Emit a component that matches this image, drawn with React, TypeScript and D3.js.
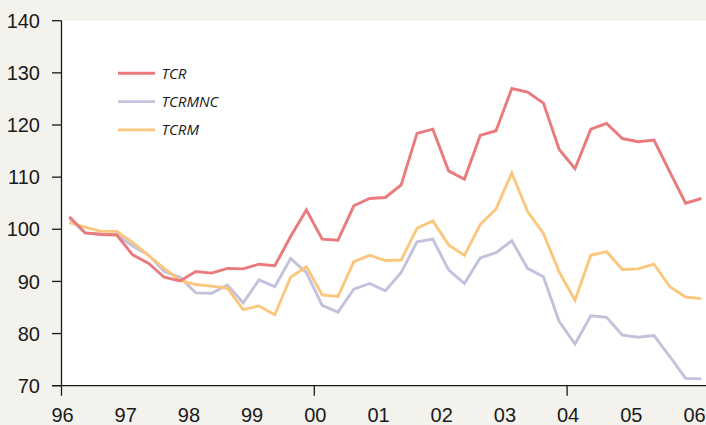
import React, { useEffect, useRef } from 'react';
import * as d3 from 'd3';

// quarterly observations, 1996Q1 .. 2006Q1
const startYear = 1996;
const tcr = [
  102.4, 99.3, 99.0, 98.9, 95.1, 93.5, 90.8, 90.1, 91.9, 91.6,
  92.5, 92.4, 93.3, 93.0, 98.6, 103.7, 98.1, 97.9, 104.5, 105.9,
  106.1, 108.5, 118.4, 119.2, 111.2, 109.6, 118.0, 118.9, 127.0, 126.3,
  124.2, 115.3, 111.6, 119.2, 120.3, 117.4, 116.8, 117.1, 111.0, 105.0,
  105.9,
];
const tcrmnc = [
  102.1, 99.3, 99.1, 99.0, 96.8, 95.1, 91.9, 90.8, 87.8, 87.7,
  89.3, 85.9, 90.3, 89.0, 94.4, 91.7, 85.4, 84.1, 88.5, 89.6,
  88.2, 91.7, 97.6, 98.1, 92.2, 89.6, 94.5, 95.5, 97.8, 92.5,
  90.9, 82.3, 78.0, 83.4, 83.1, 79.7, 79.3, 79.6, 75.6, 71.4,
  71.3,
];
const tcrm = [
  101.3, 100.4, 99.6, 99.6, 97.5, 95.0, 92.5, 90.2, 89.4, 89.1,
  88.7, 84.6, 85.3, 83.6, 90.8, 92.8, 87.4, 87.1, 93.8, 95.0,
  94.0, 94.1, 100.2, 101.6, 97.0, 95.0, 100.9, 103.9, 110.8, 103.4,
  99.2, 91.8, 86.4, 95.0, 95.7, 92.3, 92.4, 93.3, 89.0, 87.0,
  86.7,
];

const seriesNames = ['TCR', 'TCRMNC', 'TCRM'];
const seriesColors = ['#ea7a7c', '#c2c2dd', '#fbc77d'];
const yTicks = [70, 80, 90, 100, 110, 120, 130, 140];
const xYears = [1996, 1997, 1998, 1999, 2000, 2001, 2002, 2003, 2004, 2005, 2006];
const xTickMarks = [2000, 2004];

const App: React.FC = () => {
  const svgRef = useRef<SVGSVGElement>(null);

  useEffect(() => {
    if (!svgRef.current) return;
    const svg = d3.select(svgRef.current);
    svg.selectAll('*').remove();

    const width = 706;
    const height = 425;
    const left = 61.5;
    const top = 20.7;
    const bottom = 385.7;

    const x = d3.scaleLinear().domain([1996, 2006]).range([left, 693.5]);
    const y = d3.scaleLinear().domain([70, 140]).range([bottom, top]);

    svg.append('rect').attr('width', width).attr('height', height).attr('fill', '#f4f2ed');
    svg.append('rect')
      .attr('x', left).attr('y', top)
      .attr('width', width - left).attr('height', bottom - top)
      .attr('fill', '#ffffff');

    const font = "'Liberation Sans Narrow', 'Liberation Sans', sans-serif";

    // y axis ticks + labels
    yTicks.forEach(v => {
      svg.append('line')
        .attr('x1', left - 9.5).attr('x2', left)
        .attr('y1', y(v)).attr('y2', y(v))
        .attr('stroke', '#1a1a1a').attr('stroke-width', 1.3);
      svg.append('text')
        .attr('x', 40).attr('y', y(v))
        .attr('dy', '0.36em')
        .attr('text-anchor', 'end')
        .attr('font-family', font).attr('font-size', 20)
        .attr('fill', '#1a1a1a')
        .text(v);
    });

    // x labels
    xYears.forEach(yr => {
      svg.append('text')
        .attr('x', x(yr) + 1).attr('y', 421.5)
        .attr('text-anchor', 'middle')
        .attr('font-family', font).attr('font-size', 20)
        .attr('fill', '#1a1a1a')
        .text(String(yr % 100).padStart(2, '0'));
    });
    xTickMarks.forEach(yr => {
      svg.append('line')
        .attr('x1', x(yr)).attr('x2', x(yr))
        .attr('y1', bottom).attr('y2', bottom + 10)
        .attr('stroke', '#1a1a1a').attr('stroke-width', 1.3);
    });

    // axes
    svg.append('line')
      .attr('x1', left).attr('x2', left).attr('y1', top).attr('y2', bottom + 10)
      .attr('stroke', '#1a1a1a').attr('stroke-width', 1.3);
    svg.append('line')
      .attr('x1', left - 9.5).attr('x2', width).attr('y1', bottom).attr('y2', bottom)
      .attr('stroke', '#1a1a1a').attr('stroke-width', 1.3);

    // lines
    const allSeries = [tcr, tcrmnc, tcrm];
    const line = d3.line<number>()
      .x((_, i) => x(startYear + 0.125 + i * 0.25))
      .y(d => y(d));

    // draw order: lavender, orange, red on top
    [1, 2, 0].forEach(k => {
      svg.append('path')
        .attr('d', line(allSeries[k]) || '')
        .attr('fill', 'none')
        .attr('stroke', seriesColors[k])
        .attr('stroke-width', 2.9)
        .attr('stroke-linejoin', 'miter');
    });

    // legend
    seriesNames.forEach((name, k) => {
      const ly = 73.3 + k * 28.3;
      svg.append('line')
        .attr('x1', 118).attr('x2', 155)
        .attr('y1', ly).attr('y2', ly)
        .attr('stroke', seriesColors[k]).attr('stroke-width', 2.9);
      svg.append('text')
        .attr('x', 161.5).attr('y', ly)
        .attr('dy', '0.36em')
        .attr('font-family', "'Open Sans', sans-serif")
        .attr('font-style', 'italic')
        .attr('font-size', 15)
        .attr('fill', '#1a1a1a')
        .text(name);
    });
  }, []);

  return (
    <svg
      ref={svgRef}
      width={706}
      height={425}
      style={{ position: 'absolute', left: 0, top: 0, display: 'block' }}
    />
  );
};

export default App;
